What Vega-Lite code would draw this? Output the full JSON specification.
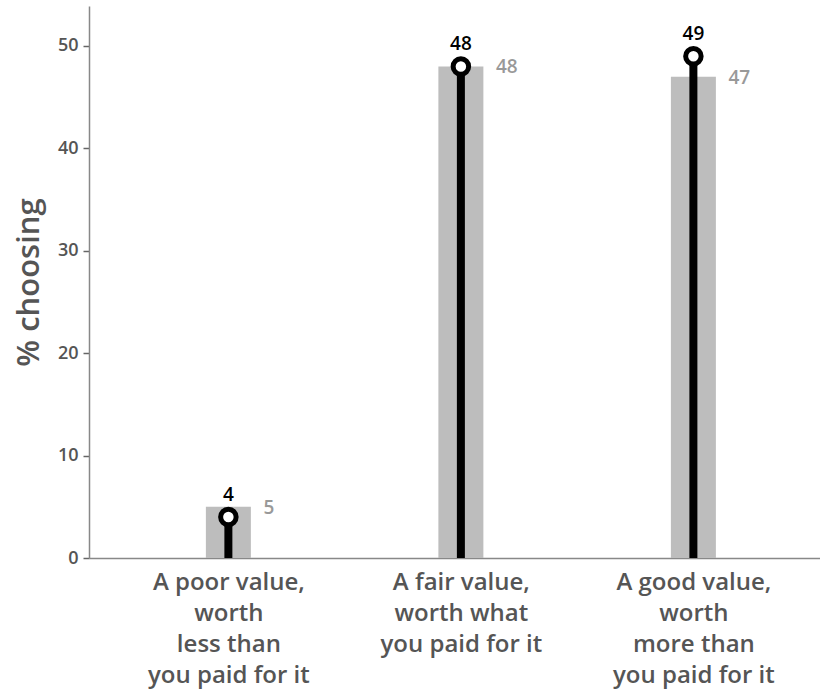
{
  "$schema": "https://vega.github.io/schema/vega-lite/v6.json",
  "autosize": "none",
  "width": 731,
  "height": 552,
  "padding": {"left": 89, "top": 6, "right": 0, "bottom": 138},
  "background": "white",
  "config": {
    "font": "Open Sans",
    "view": {"stroke": null},
    "axis": {"grid": false}
  },
  "data": {
    "values": [
      {"answer": "A poor value,|worth|less than|you paid for it", "group": 5, "person": 4},
      {"answer": "A fair value,|worth what|you paid for it", "group": 48, "person": 48},
      {"answer": "A good value,|worth|more than|you paid for it", "group": 47, "person": 49}
    ]
  },
  "encoding": {
    "x": {
      "field": "answer",
      "type": "nominal",
      "sort": null,
      "scale": {"type": "point", "padding": 0.572, "align": 0.524},
      "axis": {
        "title": null,
        "labelAngle": 0,
        "ticks": false,
        "domainColor": "#888888",
        "domainWidth": 1.5,
        "labelExpr": "split(datum.label, '|')",
        "labelFont": "Open Sans",
        "labelFontSize": 24,
        "labelFontWeight": 600,
        "labelColor": "#555555",
        "labelLineHeight": 31,
        "labelPadding": 12,
        "labelBaseline": "top"
      }
    }
  },
  "layer": [
    {
      "mark": {"type": "bar", "color": "#bdbdbd", "size": 45},
      "encoding": {
        "y": {
          "field": "group",
          "type": "quantitative",
          "scale": {"domain": [0, 53.9], "nice": false},
          "axis": {
            "title": "% choosing",
            "values": [0, 10, 20, 30, 40, 50],
            "domainColor": "#888888",
            "domainWidth": 1.5,
            "tickColor": "#666666",
            "tickSize": 6,
            "tickWidth": 1.5,
            "labelFont": "Open Sans",
            "labelFontSize": 18,
            "labelFontWeight": 600,
            "labelColor": "#555555",
            "labelPadding": 5,
            "titleFont": "Open Sans",
            "titleFontSize": 31,
            "titleFontWeight": 600,
            "titleColor": "#555555",
            "titlePadding": 12
          }
        }
      }
    },
    {
      "mark": {"type": "text", "align": "left", "baseline": "middle", "dx": 35, "dy": 1, "fontSize": 19, "fontWeight": 600, "color": "#999999"},
      "encoding": {
        "y": {"field": "group", "type": "quantitative"},
        "text": {"field": "group", "type": "quantitative"}
      }
    },
    {
      "mark": {"type": "rule", "color": "black", "strokeWidth": 8},
      "encoding": {
        "y": {"field": "person", "type": "quantitative"},
        "y2": {"datum": 0}
      }
    },
    {
      "mark": {"type": "point", "shape": "circle", "filled": true, "fill": "white", "stroke": "black", "strokeWidth": 5, "size": 240, "opacity": 1},
      "encoding": {
        "y": {"field": "person", "type": "quantitative"}
      }
    },
    {
      "mark": {"type": "text", "align": "center", "baseline": "alphabetic", "dy": -16, "fontSize": 19, "fontWeight": 600, "color": "black"},
      "encoding": {
        "y": {"field": "person", "type": "quantitative"},
        "text": {"field": "person", "type": "quantitative"}
      }
    }
  ]
}
